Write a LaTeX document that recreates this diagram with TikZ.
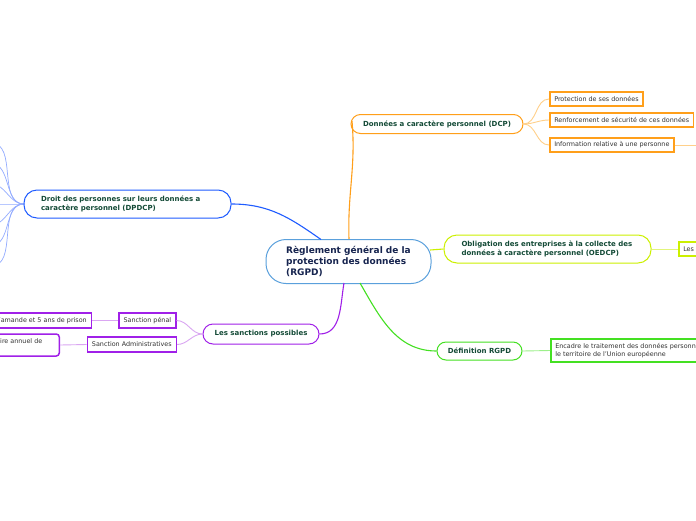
\documentclass[tikz,border=0pt]{standalone}
\usepackage{fontspec}
\setmainfont{DejaVu Sans}
\definecolor{cblue}{HTML}{5AA0DC}
\definecolor{ctext}{HTML}{16244F}
\definecolor{btext}{HTML}{134A36}
\definecolor{ltext}{HTML}{333333}
\definecolor{corange}{HTML}{FF9F1A}
\definecolor{lorange}{HTML}{FFD08A}
\definecolor{cyellow}{HTML}{CCF000}
\definecolor{lyellow}{HTML}{E2F57A}
\definecolor{cgreen}{HTML}{44E022}
\definecolor{lgreen}{HTML}{9CF08A}
\definecolor{cpurple}{HTML}{A020E8}
\definecolor{lpurple}{HTML}{DAA6F2}
\definecolor{cbluebr}{HTML}{1F5CFF}
\definecolor{lbluebr}{HTML}{93ACFF}
\tikzset{
  central/.style={draw=cblue, line width=1pt, fill=white, rounded corners=20pt,
    text=ctext, font=\bfseries\fontsize{9}{11}\selectfont, align=left,
    minimum width=165pt, minimum height=44pt, inner sep=0pt},
  branch/.style={draw=#1, line width=1pt, fill=white, text=btext,
    font=\bfseries\fontsize{7}{9}\selectfont, align=left, inner sep=0pt},
  leaf/.style={draw=#1, line width=1.5pt, fill=white, text=ltext,
    font=\fontsize{6.4}{8}\selectfont, align=left, inner xsep=4.5pt, inner ysep=0pt},
  mainlink/.style={draw=#1, line width=1.1pt},
  sublink/.style={draw=#1, line width=0.9pt},
}
\begin{document}
\begin{tikzpicture}[x=1pt,y=-1pt]
\useasboundingbox (0,0) rectangle (696,520);
\clip (0,0) rectangle (696,520);
\fill[white] (0,0) rectangle (696,520);

% sub links (drawn first, nodes cover their ends)
\foreach \y [count=\i] in {143,163.5,184,204,225,245.5,266}
  \coordinate (dl\i) at (-9,\y);
\coordinate (dpw) at (24,204);
\foreach \i in {1,...,7} \draw[sublink=lbluebr, line width=0.7pt] (dpw) to[out=180,in=0] (dl\i);

% branch nodes
\node[branch=corange, rounded corners=9.5pt, minimum width=172pt, minimum height=19pt] (dcp) at (437,124) {Données a caractère personnel (DCP)};
\node[branch=cyellow, rounded corners=13pt, minimum width=207pt, minimum height=28pt, text width=172pt] (oe) at (547.5,249) {Obligation des entreprises à la collecte des\\données à caractère personnel (OEDCP)};
\node[branch=cgreen, rounded corners=9pt, minimum width=85pt, minimum height=18pt] (def) at (479.5,351) {Définition RGPD};
\node[branch=cpurple, rounded corners=10pt, minimum width=116pt, minimum height=20pt] (sanc) at (261,334) {Les sanctions possibles};
\node[branch=cbluebr, rounded corners=13pt, minimum width=207pt, minimum height=28pt, text width=173pt] (dp) at (127.5,204) {Droit des personnes sur leurs données a\\caractère personnel (DPDCP)};

% leaves
\node[leaf=corange, minimum height=14pt, anchor=west] (l1) at (549,99) {Protection de ses données};
\node[leaf=corange, minimum height=14pt, anchor=west] (l2) at (549,120) {Renforcement de sécurité de ces données};
\node[leaf=corange, minimum height=14pt, anchor=west] (l3) at (549,145) {Information relative à une personne};
\coordinate (l3x) at (700,145);
\node[leaf=cyellow, minimum height=14pt, anchor=west, text width=60pt] (l4) at (678,249) {Les};
\node[leaf=cgreen, minimum height=23pt, anchor=west] (l5) at (550,350.5) {Encadre le traitement des données personnelles sur\\le territoire de l'Union européenne};
\node[leaf=cpurple, minimum height=15pt, anchor=east] (sp) at (176.5,320.5) {Sanction pénal};
\node[leaf=cpurple, minimum height=15pt, anchor=east] (sa) at (177,344.5) {Sanction Administratives};
\node[leaf=cpurple, minimum height=15pt, anchor=east] (spl) at (92,320.5) {300 000 € d'amande et 5 ans de prison};
\node[draw=cpurple, line width=1.5pt, fill=white, rounded corners=3pt, minimum width=150pt, minimum height=22pt, anchor=east, inner sep=0pt] (sal) at (60,345) {};
\node[text=ltext, font=\fontsize{6.4}{8}\selectfont, anchor=east, inner sep=0pt] (salt) at (42.5,341.5) {4\% du chiffre d'affaire annuel de};

% central node
\node[central] (c) at (348.5,261.5) {Règlement général de la\\protection des données\\(RGPD)};
\coordinate (ce) at (430,250);

% main links
\draw[mainlink=cbluebr] (dp.east) to[out=0,in=145] (321,239.5);
\draw[mainlink=corange] (349,239) to[out=92,in=-85] ([xshift=1.5pt,yshift=3pt]dcp.west);
\draw[mainlink=cyellow] (ce) -- (oe.west);
\draw[mainlink=cgreen] (360,283) to[out=-60,in=180] (def.west);
\draw[mainlink=cpurple] (344,283) to[out=-100,in=0] (sanc.east);

% sub links
\foreach \t in {l1,l2,l3} \draw[sublink=lorange] (dcp.east) to[out=0,in=180] (\t.west);
\draw[sublink=lorange] (l3.east) -- (l3x);
\draw[sublink=lyellow] (oe.east) -- (l4.west);
\draw[sublink=lgreen] (def.east) -- (l5.west);
\draw[sublink=lpurple] (sanc.west) to[out=180,in=0] (sp.east);
\draw[sublink=lpurple] (sanc.west) to[out=180,in=0] (sa.east);
\draw[sublink=lpurple] (sp.west) -- (spl.east);
\draw[sublink=lpurple] (sa.west) -- (sal.east);
\end{tikzpicture}
\end{document}
